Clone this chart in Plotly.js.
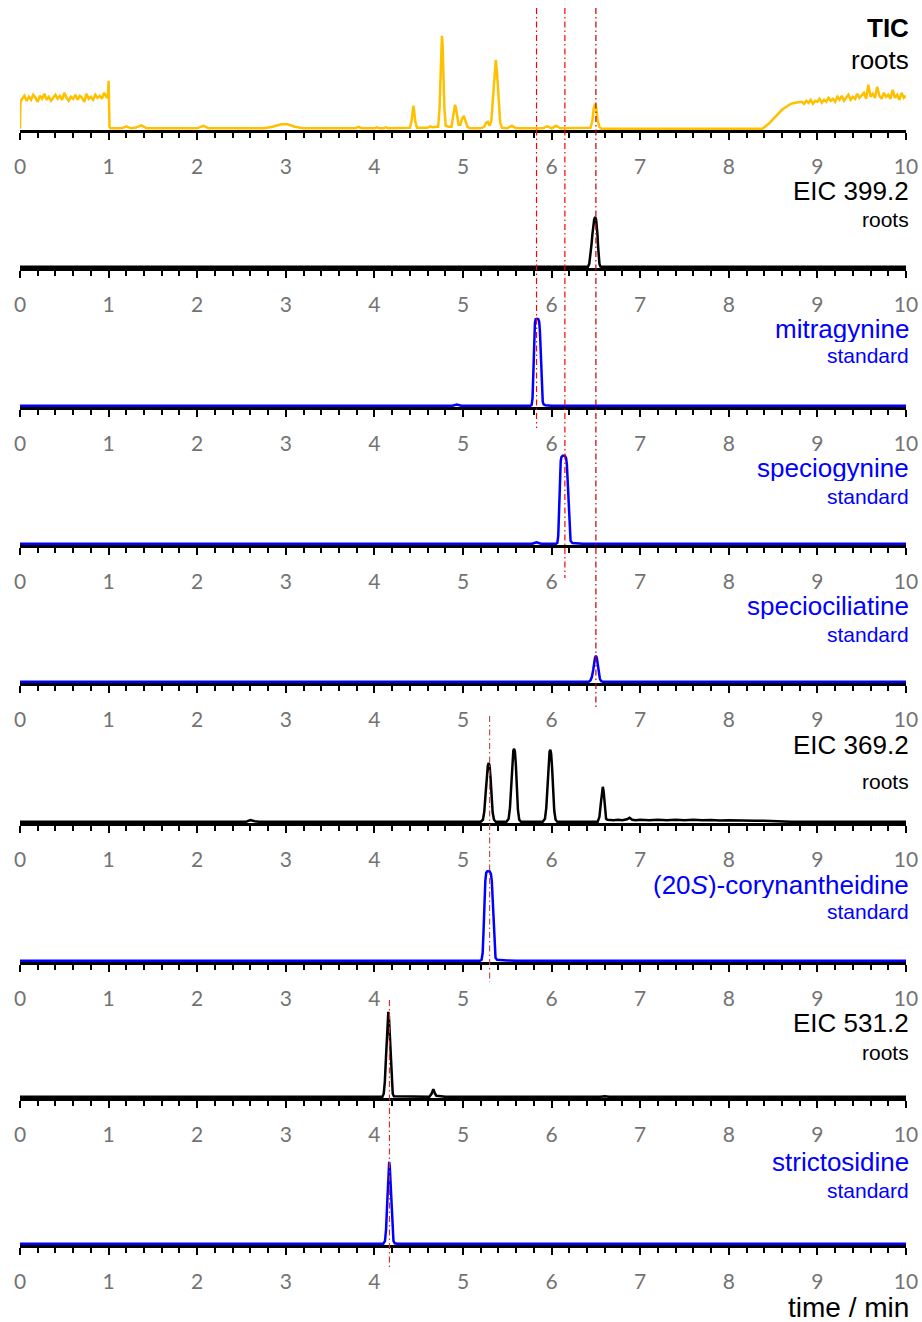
<!DOCTYPE html>
<html>
<head>
<meta charset="utf-8">
<script src="https://cdn.plot.ly/plotly-3.0.1.min.js"></script>
<style>
  html, body { margin: 0; padding: 0; background: #fff; }
  #chart { width: 922px; height: 1322px; }
</style>
</head>
<body>
<div id="chart"></div>
<script>
// ---------------- DATA (retention time in min, relative intensity) ----------------
const ticX = [0, 0.005, 0.025, 0.05, 0.075, 0.1, 0.125, 0.15, 0.175, 0.2, 0.225, 0.25, 0.275, 0.3, 0.325, 0.35, 0.375, 0.4, 0.425, 0.45, 0.475, 0.5, 0.525, 0.55, 0.575, 0.6, 0.625, 0.65, 0.675, 0.7, 0.725, 0.75, 0.775, 0.8, 0.825, 0.85, 0.875, 0.9, 0.925, 0.95, 0.975, 0.99, 1.0, 1.005, 1.01, 1.02,
  1.15, 1.2, 1.25, 1.3, 1.37, 1.43, 2.0, 2.07, 2.13, 2.75, 2.85, 2.95, 3.02, 3.1, 3.2, 3.78, 3.82, 3.86, 4.0, 4.03, 4.06, 4.1, 4.13, 4.16, 4.3,
  4.40, 4.42, 4.43, 4.44, 4.45, 4.46, 4.48, 4.6, 4.63, 4.66, 4.7, 4.72, 4.735, 4.745, 4.755, 4.762, 4.77, 4.78, 4.79, 4.805, 4.84,
  4.87, 4.885, 4.9, 4.91, 4.92, 4.935, 4.95, 4.97, 4.99, 5.01, 5.03, 5.05, 5.08, 5.2, 5.24, 5.26, 5.28, 5.3, 5.32, 5.34, 5.355, 5.37, 5.385, 5.40, 5.42, 5.44, 5.5, 5.55, 5.6,
  5.9, 5.95, 6.0, 6.05, 6.1, 6.44, 6.46, 6.475, 6.49, 6.505, 6.52, 6.54, 6.56, 8.38, 8.45, 8.5, 8.55, 8.6, 8.65, 8.7, 8.75, 8.8,
  8.825, 8.85, 8.875, 8.9, 8.925, 8.95, 8.975, 9.0, 9.025, 9.05, 9.075, 9.1, 9.125, 9.15, 9.175, 9.2, 9.225, 9.25, 9.275, 9.3, 9.325, 9.35, 9.375, 9.4, 9.425, 9.45, 9.475, 9.5, 9.525, 9.55, 9.575, 9.6, 9.625, 9.65, 9.675, 9.7, 9.725, 9.75, 9.775, 9.8, 9.825, 9.85, 9.875, 9.9, 9.925, 9.95, 9.975, 10.0];
const ticY = [0, 27, 30, 33, 28, 32, 29, 34, 31, 27, 33, 30, 35, 29, 32, 28, 31, 34, 30, 33, 29, 36, 31, 28, 32, 30, 34, 29, 33, 31, 27, 35, 30, 32, 29, 34, 31, 33, 30, 36, 32, 31, 48, 30, 2, 0.5,
  0.5, 2.5, 0.5, 1, 3.5, 0.5, 0.5, 3, 0.5, 0.5, 2, 4.5, 4.5, 2, 0.5, 0.5, 2, 0.5, 0.5, 1.5, 0.5, 0.5, 1.5, 0.5, 0.5,
  1, 8, 17, 23, 17, 8, 1, 1, 2.5, 1.5, 2, 2, 20, 55, 85, 93, 85, 55, 20, 3, 2,
  2, 10, 21, 24, 21, 10, 4, 4, 10, 13, 8, 2, 0.5, 0.5, 2, 6, 7, 3, 8, 30, 55, 69, 55, 28, 6, 1, 0.5, 3, 0.5,
  0.5, 2.5, 0.5, 3, 0.5, 1, 8, 20, 25, 20, 8, 2, 0, 0, 5, 10, 15, 19, 22, 25, 26, 27,
  27, 25, 28, 26, 29, 25, 28, 27, 30, 26, 29, 27, 31, 28, 30, 27, 32, 29, 33, 28, 31, 34, 29, 32, 30, 35, 31, 33, 36, 30, 44, 32, 35, 31, 42, 33, 30, 36, 32, 34, 30, 39, 31, 34, 29, 36, 31, 33];

const eic399X = [0, 1.0, 1.05, 1.1, 3.75, 3.8, 3.85, 6.41, 6.425, 6.44, 6.45, 6.46, 6.47, 6.48, 6.488, 6.495, 6.503, 6.51, 6.518, 6.525, 6.533, 6.54, 6.55, 6.56, 10];
const eic399Y = [0, 0, 0.6, 0, 0, 0.6, 0, 0, 3, 12, 22, 32, 41, 47, 49, 49, 47, 42, 32, 20, 9, 3, 0.5, 0, 0];

const mitragynineX = [0, 4.88, 4.93, 4.98, 5.76, 5.775, 5.785, 5.795, 5.805, 5.812, 5.82, 5.835, 5.85, 5.86, 5.868, 5.876, 5.884, 5.892, 5.9, 5.91, 5.93, 5.96, 6.0, 10];
const mitragynineY = [0, 0, 1.2, 0, 0, 1, 8, 35, 70, 83, 86.5, 87, 86.5, 84, 75, 55, 30, 12, 4, 1.5, 0.6, 0.4, 0, 0];

const speciogynineX = [0, 5.78, 5.83, 5.88, 6.05, 6.065, 6.075, 6.085, 6.095, 6.103, 6.112, 6.125, 6.15, 6.163, 6.172, 6.18, 6.188, 6.196, 6.204, 6.214, 6.235, 6.3, 6.35, 10];
const speciogynineY = [0, 0, 1.5, 0, 0, 1, 8, 35, 70, 83, 87, 88, 88, 86, 80, 65, 45, 25, 10, 3, 0.8, 0.5, 0, 0];

const speciociliatineX = [0, 6.42, 6.44, 6.455, 6.47, 6.48, 6.49, 6.5, 6.51, 6.52, 6.53, 6.545, 6.56, 6.58, 10];
const speciociliatineY = [0, 0, 1.5, 5, 12, 19, 24, 26, 24, 18, 10, 3, 0.5, 0, 0];

const eic369X = [0, 2.55, 2.6, 2.65, 2.7, 5.2, 5.225, 5.24, 5.255, 5.268, 5.28, 5.29, 5.3, 5.31, 5.322, 5.335, 5.35, 5.37, 5.49, 5.515, 5.53, 5.545, 5.558, 5.568, 5.577, 5.586, 5.596, 5.608, 5.62, 5.635, 5.655, 5.9, 5.925, 5.94, 5.955, 5.967, 5.977, 5.986, 5.995, 6.005, 6.017, 6.03, 6.045, 6.065, 6.52, 6.54, 6.555, 6.568, 6.578, 6.588, 6.6, 6.615, 6.63, 6.7, 6.75, 6.8, 6.85, 6.88, 6.91, 6.95, 7.0, 7.1, 7.2, 7.3, 7.4, 7.5, 7.6, 7.7, 7.8, 7.9, 8.0, 8.1, 8.2, 8.3, 8.4, 8.5, 8.6, 8.7, 10];
const eic369Y = [0, 0, 1.8, 0.5, 0, 0, 2, 10, 28, 45, 56, 59, 56, 45, 26, 9, 2, 0, 0, 3, 14, 38, 60, 71, 73, 70, 58, 34, 12, 2, 0, 0, 3, 14, 38, 60, 70, 72, 68, 55, 32, 11, 2, 0, 0, 5, 18, 31, 35, 30, 14, 3, 2, 1.5, 2, 1.5, 2.5, 4, 2, 1.5, 2, 1.5, 2, 1.5, 2, 1.5, 2, 1.5, 1.8, 1.3, 1.6, 1.2, 1.4, 1, 1.1, 0.6, 0.2, 0, 0];

const corynantheidineX = [0, 5.19, 5.21, 5.222, 5.232, 5.242, 5.252, 5.262, 5.275, 5.3, 5.315, 5.325, 5.333, 5.341, 5.349, 5.357, 5.367, 5.385, 5.42, 5.5, 5.6, 10];
const corynantheidineY = [0, 0, 1, 8, 30, 60, 80, 88, 89.5, 89.5, 87, 80, 65, 45, 25, 10, 3, 1, 0.6, 0.4, 0, 0];

const eic531X = [0, 4.09, 4.105, 4.118, 4.13, 4.14, 4.15, 4.157, 4.164, 4.174, 4.184, 4.195, 4.207, 4.22, 4.62, 4.645, 4.665, 4.685, 4.7, 4.75, 4.8, 6.55, 6.6, 6.65, 10];
const eic531Y = [0, 0, 3, 15, 38, 62, 80, 85, 80, 60, 35, 14, 3, 0.5, 0, 3, 7.5, 3, 1, 0.5, 0, 0, 0.6, 0, 0];

const strictosidineX = [0, 4.1, 4.12, 4.132, 4.143, 4.153, 4.161, 4.167, 4.173, 4.182, 4.192, 4.203, 4.215, 4.23, 4.26, 10];
const strictosidineY = [0, 0, 3, 15, 38, 62, 78, 82, 78, 60, 35, 13, 3, 0.5, 0, 0];

// reference retention times (dash-dot guide lines)
const guideTimes = [5.83, 6.15, 6.5, 5.3, 4.17];

// panel labels
const mainLabels = ['<b>TIC</b>', 'EIC 399.2', 'mitragynine', 'speciogynine', 'speciociliatine', 'EIC 369.2', '(20<i>S</i>)-corynantheidine', 'EIC 531.2', 'strictosidine'];
const subLabels = ['roots', 'roots', 'standard', 'standard', 'standard', 'roots', 'standard', 'roots', 'standard'];
const xAxisTitle = 'time / min';

// ---------------- LAYOUT ----------------
const H = 1322, W = 922;
const YELLOW = '#FFC000', BLUE = '#0000FF', BLACK = '#000000';
const series = [
  [ticX, ticY, YELLOW], [eic399X, eic399Y, BLACK], [mitragynineX, mitragynineY, BLUE],
  [speciogynineX, speciogynineY, BLUE], [speciociliatineX, speciociliatineY, BLUE],
  [eic369X, eic369Y, BLACK], [corynantheidineX, corynantheidineY, BLUE],
  [eic531X, eic531Y, BLACK], [strictosidineX, strictosidineY, BLUE]
];
const baselinePx = [130, 268, 407, 545, 683, 823, 962, 1098, 1245];
const mainLabelPx = [28, 191, 329, 468, 606, 745, 885, 1023, 1162];
const subLabelPx = [60, 220, 356, 496, 634, 781, 911, 1052, 1190];
const labelColors = [BLACK, BLACK, BLUE, BLUE, BLUE, BLACK, BLUE, BLACK, BLUE];
const mainSizes = [26, 26, 26, 26, 26, 26, 26, 26, 26];
const subSizes = [26, 21, 21, 21, 21, 21, 21, 21, 21];

const py = px => 1 - px / H;

const traces = [];
const layout = {
  width: W, height: H,
  margin: {l: 20, r: 16, t: 0, b: 0, pad: 0},
  paper_bgcolor: '#fff', plot_bgcolor: 'rgba(0,0,0,0)',
  showlegend: false,
  annotations: [], shapes: []
};

series.forEach((s, i) => {
  const n = i === 0 ? '' : String(i + 1);
  traces.push({
    x: s[0], y: s[1], xaxis: 'x' + n, yaxis: 'y' + n,
    type: 'scatter', mode: 'lines',
    line: {color: s[2], width: 2.5, shape: 'linear'},
    hoverinfo: 'skip'
  });
  const b = baselinePx[i];
  layout['yaxis' + n] = {
    domain: [py(b), py(b - 100)], range: [-1.2, 98.8],
    visible: false, fixedrange: true
  };
  layout['xaxis' + n] = {
    anchor: 'y' + n, domain: [0, 1], range: [0, 10],
    showgrid: false, zeroline: false,
    showline: true, linecolor: BLACK, linewidth: 2.5,
    ticks: 'outside', ticklen: 7, tickwidth: 2, tickcolor: BLACK,
    tick0: 0, dtick: 1,
    tickfont: {family: 'Lato, "Open Sans", sans-serif', size: 21, color: '#737373'},
    ticklabelstandoff: 9,
    minor: {ticks: 'outside', ticklen: 5, tickwidth: 2, tickcolor: BLACK, dtick: 0.2, showgrid: false},
    layer: 'below traces', fixedrange: true
  };
  layout.annotations.push({
    xref: 'paper', yref: 'paper', x: 1.0045, y: py(mainLabelPx[i]),
    xanchor: 'right', yanchor: 'middle', showarrow: false, borderpad: 0,
    height: mainSizes[i], valign: 'middle',
    text: mainLabels[i],
    font: {family: '"Liberation Sans", Arial, sans-serif', size: mainSizes[i], color: labelColors[i]}
  });
  layout.annotations.push({
    xref: 'paper', yref: 'paper', x: 1.0045, y: py(subLabelPx[i]),
    xanchor: 'right', yanchor: 'middle', showarrow: false, borderpad: 0,
    height: subSizes[i], valign: 'middle',
    text: subLabels[i],
    font: {family: '"Liberation Sans", Arial, sans-serif', size: subSizes[i], color: labelColors[i]}
  });
});

layout.annotations.push({
  xref: 'paper', yref: 'paper', x: 1.0045, y: py(1307),
  xanchor: 'right', yanchor: 'middle', showarrow: false, borderpad: 0,
  height: 28, valign: 'middle',
  text: xAxisTitle,
  font: {family: '"Liberation Sans", Arial, sans-serif', size: 28, color: BLACK}
});

// guide lines: [time index, top px, bottom px, colour]
const guideSpans = [[0, 8, 428, '#FF0000'], [1, 8, 578, '#FF0000'], [2, 8, 710, '#C00000'], [3, 716, 982, '#C0504D'], [4, 1000, 1268, '#D03030']];
guideSpans.forEach(g => {
  layout.shapes.push({
    type: 'line', xref: 'x', yref: 'paper',
    x0: guideTimes[g[0]], x1: guideTimes[g[0]], y0: py(g[1]), y1: py(g[2]),
    line: {color: g[3], width: 1.2, dash: '6px,3px,1.5px,3px'}, layer: 'above'
  });
});

Plotly.newPlot('chart', traces, layout, {displayModeBar: false, staticPlot: true});
</script>
</body>
</html>
